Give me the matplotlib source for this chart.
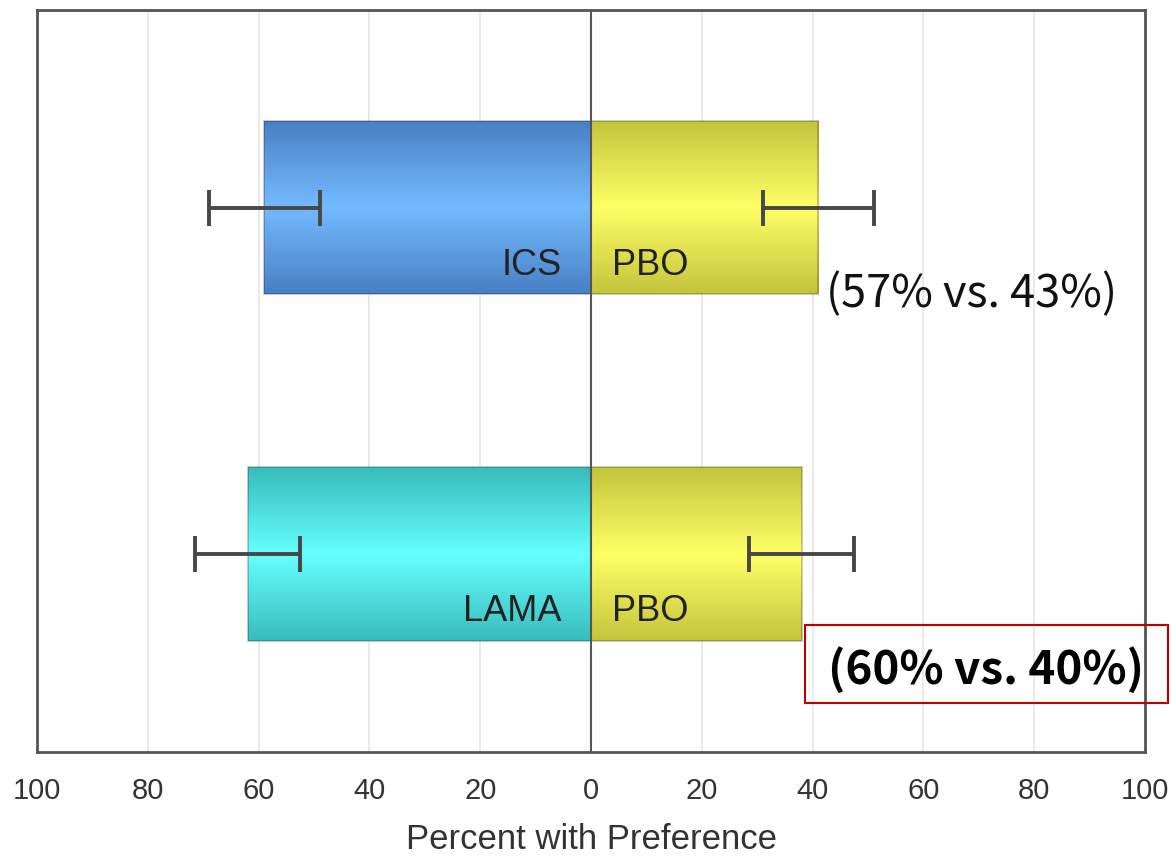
import numpy as np
import matplotlib
matplotlib.use("Agg")
import matplotlib.pyplot as plt
from matplotlib.patches import Rectangle
from matplotlib.colors import LinearSegmentedColormap
from matplotlib.ticker import FuncFormatter

# data
comparisons = ["ICS", "LAMA"]
active_pct = [59, 62]          # drawn to the left
active_err = [10, 9.5]
pbo_pct = [41, 38]             # drawn to the right
pbo_err = [10, 9.5]
summary = ["(57% vs. 43%)", "(60% vs. 40%)"]

ypos = [1, 0]
bar_h = 0.5

# (edge colour, centre colour) for the vertical gradient
left_cols = [("#4880c4", "#74baff"), ("#38bcbc", "#66ffff")]
right_cols = ("#c4c43c", "#ffff66")

fig = plt.figure(figsize=(11.71, 8.59), dpi=100)
ax = fig.add_axes([0.0316, 0.1246, 0.9462, 0.8638])

ax.set_xticks(range(-100, 101, 20))
ax.xaxis.set_major_formatter(FuncFormatter(lambda v, p: f"{abs(int(v))}"))
ax.set_yticks([])
ax.tick_params(axis="x", length=0, pad=18, labelsize=21, labelcolor="#333333")
for lab in ax.get_xticklabels():
    lab.set_family("Liberation Sans")
ax.grid(axis="x", color="#e6e6e6", lw=1.2)
ax.set_axisbelow(True)
for s in ax.spines.values():
    s.set_color("#555555")
    s.set_linewidth(2)

ax.set_xlabel("Percent with Preference", fontsize=25, family="Liberation Sans",
              color="#333333", labelpad=13)


def grad_bar(bar, cols):
    cmap = LinearSegmentedColormap.from_list("g", [cols[0], cols[1], cols[0]])
    x0, y0 = bar.get_x(), bar.get_y()
    w, h = bar.get_width(), bar.get_height()
    g = np.linspace(0, 1, 256).reshape(-1, 1)
    im = ax.imshow(g, cmap=cmap, aspect="auto", zorder=2,
                   extent=[x0, x0 + w, y0, y0 + h], origin="lower")
    im.set_clip_path(bar)


left_bars = ax.barh(ypos, [-v for v in active_pct], height=bar_h, color="none",
                    edgecolor=(0, 0, 0, 0.25), lw=1.2, zorder=3)
right_bars = ax.barh(ypos, pbo_pct, height=bar_h, color="none",
                     edgecolor=(0, 0, 0, 0.25), lw=1.2, zorder=3)
for b, c in zip(left_bars, left_cols):
    grad_bar(b, c)
for b in right_bars:
    grad_bar(b, right_cols)

ax.set_xlim(-100, 100)
ax.set_ylim(-0.572, 1.572)

ax.errorbar([-v for v in active_pct], ypos, xerr=active_err, fmt="none",
            ecolor="#474747", elinewidth=2.8, capsize=13, capthick=2.8, zorder=4)
ax.errorbar(pbo_pct, ypos, xerr=pbo_err, fmt="none",
            ecolor="#474747", elinewidth=2.8, capsize=13, capthick=2.8, zorder=4)

ax.axvline(0, color="#555555", lw=1.5, zorder=5)

for name, y in zip(comparisons, ypos):
    ax.text(-5.3, y - 0.194, name, ha="right", va="baseline", fontsize=26,
            family="Liberation Sans", color="#222222", zorder=6)
    ax.text(3.8, y - 0.194, "PBO", ha="left", va="baseline", fontsize=26,
            family="Liberation Sans", color="#222222", zorder=6)

fig.text(826 / 1171, 1 - 307 / 859, summary[0], fontsize=32.5,
         family=["Noto Sans CJK KR", "DejaVu Sans"], color="#111111",
         ha="left", va="baseline")
fig.text(828 / 1171, 1 - 684 / 859, summary[1], fontsize=33, fontweight="bold",
         family=["Noto Sans CJK KR", "DejaVu Sans"], color="#000000",
         ha="left", va="baseline")
fig.patches.append(Rectangle((805 / 1171, 1 - 703 / 859), 363 / 1171, 78 / 859,
                             transform=fig.transFigure, fill=False,
                             edgecolor="#c00000", lw=1.5))

fig.savefig("out.png", dpi=100)
